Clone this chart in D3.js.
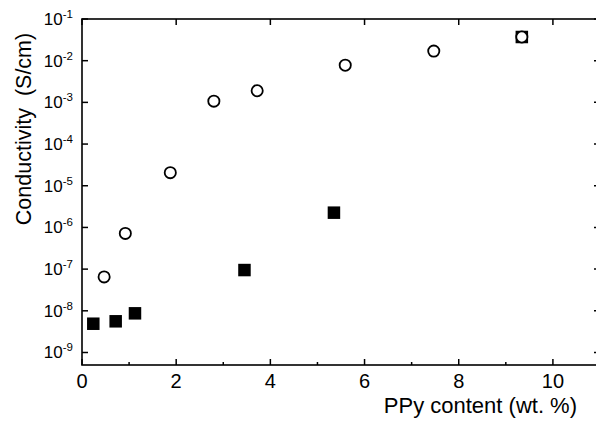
<!DOCTYPE html>
<html>
<head>
<meta charset="utf-8">
<script src="https://cdn.jsdelivr.net/npm/d3@7"></script>
<style>
  body { margin: 0; background: #fff; }
  text { font-family: "Liberation Sans", Arial, sans-serif; fill: #000; }
</style>
</head>
<body>
<svg id="chart" width="596" height="423"></svg>
<script>
// Données
const ouvertsX = [0.47, 0.92, 1.875, 2.8, 3.72, 5.59, 7.47, 9.34];
const ouvertsY = [6.5e-8, 7.2e-7, 2.06e-5, 1.07e-3, 1.9e-3, 7.8e-3, 1.7e-2, 3.7e-2];
const pleinsX  = [0.24, 0.715, 1.125, 3.45, 5.35, 9.34];
const pleinsY  = [4.9e-9, 5.6e-9, 8.7e-9, 9.5e-8, 2.26e-6, 3.7e-2];
const ticksX   = [0, 2, 4, 6, 8, 10];
const ticksXmin = [1, 3, 5, 7, 9];
const exposants = [-1, -2, -3, -4, -5, -6, -7, -8, -9];

const svg = d3.select("#chart");
const g = { left: 82, right: 600, top: 19, bottom: 365 };

const x = d3.scaleLinear().domain([0, 11]).range([g.left, g.right]);
const y = d3.scaleLog().domain([Math.pow(10, -9.3), 0.1]).range([g.bottom, g.top]);

// Cadre
svg.append("rect")
    .attr("x", g.left).attr("y", g.top)
    .attr("width", g.right - g.left).attr("height", g.bottom - g.top)
    .attr("fill", "none").attr("stroke", "#000").attr("stroke-width", 1.6);

// Graduations
const traits = svg.append("g").attr("stroke", "#000").attr("stroke-width", 1.5);
ticksX.forEach(v => {
    traits.append("line").attr("x1", x(v)).attr("x2", x(v)).attr("y1", g.bottom).attr("y2", g.bottom - 6);
    traits.append("line").attr("x1", x(v)).attr("x2", x(v)).attr("y1", g.top).attr("y2", g.top + 6);
});
ticksXmin.forEach(v => {
    traits.append("line").attr("x1", x(v)).attr("x2", x(v)).attr("y1", g.bottom).attr("y2", g.bottom - 3);
});
exposants.forEach(e => {
    const yy = y(Math.pow(10, e));
    traits.append("line").attr("x1", g.left).attr("x2", g.left + 6).attr("y1", yy).attr("y2", yy);
    traits.append("line").attr("x1", g.right).attr("x2", g.right - 6).attr("y1", yy).attr("y2", yy);
});

// Étiquettes X
svg.append("g").selectAll("text").data(ticksX).join("text")
    .attr("x", d => x(d)).attr("y", 388)
    .attr("text-anchor", "middle").attr("font-size", 20)
    .text(d => d);

// Étiquettes Y (10 puissance)
const ety = svg.append("g").selectAll("text").data(exposants).join("text")
    .attr("x", 73).attr("y", d => y(Math.pow(10, d)) + 6)
    .attr("text-anchor", "end").attr("font-size", 17);
ety.append("tspan").text("10");
ety.append("tspan").attr("dy", -7).attr("font-size", 11.5).text(d => d);

// Titres des axes
svg.append("text")
    .attr("transform", "translate(31,129) rotate(-90)")
    .attr("text-anchor", "middle").attr("font-size", 21.5)
    .attr("xml:space", "preserve")
    .text("Conductivity  (S/cm)");
svg.append("text")
    .attr("x", 577).attr("y", 413)
    .attr("text-anchor", "end").attr("font-size", 22)
    .text("PPy content (wt. %)");

// Carrés pleins
const cote = 12.5;
svg.append("g").selectAll("rect").data(pleinsX.map((v, i) => [v, pleinsY[i]])).join("rect")
    .attr("x", d => x(d[0]) - cote / 2).attr("y", d => y(d[1]) - cote / 2)
    .attr("width", cote).attr("height", cote).attr("fill", "#000");

// Cercles ouverts
svg.append("g").selectAll("circle").data(ouvertsX.map((v, i) => [v, ouvertsY[i]])).join("circle")
    .attr("cx", d => x(d[0])).attr("cy", d => y(d[1])).attr("r", 5.6)
    .attr("fill", "#fff").attr("stroke", "#000").attr("stroke-width", 1.8);
</script>
</body>
</html>
